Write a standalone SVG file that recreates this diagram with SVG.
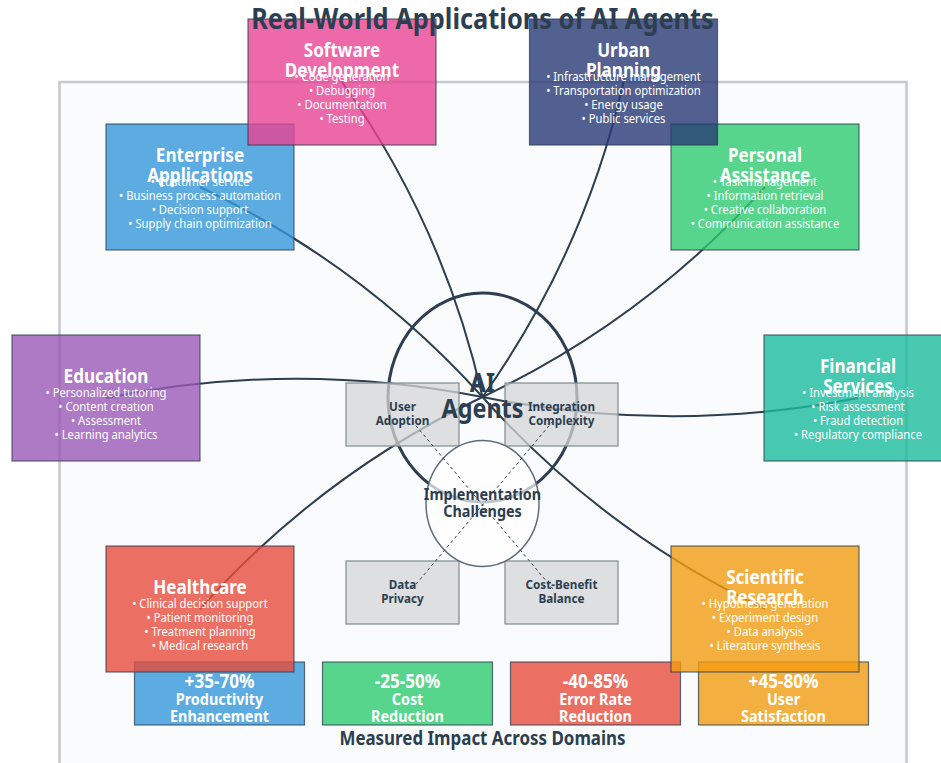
<svg xmlns="http://www.w3.org/2000/svg" width="941" height="763" viewBox="0 0 941 763">
<style>
text{font-family:"Noto Sans","Liberation Sans",sans-serif;text-anchor:middle}
.ttl{font-size:28.2px;font-weight:bold;fill:#2c3e50}
.nt{font-size:19px;font-weight:bold;fill:#ffffff}
.nb{font-size:12.5px;fill:#ffffff}
.node{fill-opacity:0.8;stroke:#2c3e50;stroke-opacity:0.75;stroke-width:1.2}
.conn{fill:none;stroke:#2c3e50;stroke-width:2}
.gbox{fill:#d3d5d7;fill-opacity:0.75;stroke:#7f8c8d;stroke-width:1.2}
.gt{font-size:13px;font-weight:bold;fill:#2c3e50}
.ct{font-size:16px;font-weight:bold;fill:#2c3e50}
.ai{font-size:26px;font-weight:bold;fill:#2c3e50}
.mv{font-size:19px;font-weight:bold;fill:#ffffff}
.ml{font-size:16px;font-weight:bold;fill:#ffffff}
.sub{font-size:18.8px;font-weight:bold;fill:#2c3e50}
.dash{stroke:#2c3e50;stroke-width:1;stroke-dasharray:3 3;fill:none}
</style>
<rect x="0" y="0" width="941" height="763" fill="#ffffff"/>
<rect id="panel" x="59.5" y="82" width="847" height="720" fill="#fafbfc" stroke="#c3c9cf" stroke-width="2.5"/>

<g id="metrics">
  <g id="metric-productivity">
    <rect class="node" x="134.5" y="662" width="170" height="63" fill="#3498db"/>
    <g transform="matrix(0.9 0 0 1 21.95 0)">
      <text class="mv" x="219.5" y="688">+35-70%</text>
      <text class="ml" x="219.5" y="705">Productivity</text>
      <text class="ml" x="219.5" y="722">Enhancement</text>
    </g>
  </g>
  <g id="metric-cost">
    <rect class="node" x="322.5" y="662" width="170" height="63" fill="#2ecc71"/>
    <g transform="matrix(0.9 0 0 1 40.75 0)">
      <text class="mv" x="407.5" y="688">-25-50%</text>
      <text class="ml" x="407.5" y="705">Cost</text>
      <text class="ml" x="407.5" y="722">Reduction</text>
    </g>
  </g>
  <g id="metric-error">
    <rect class="node" x="510.5" y="662" width="170" height="63" fill="#e74c3c"/>
    <g transform="matrix(0.9 0 0 1 59.55 0)">
      <text class="mv" x="595.5" y="688">-40-85%</text>
      <text class="ml" x="595.5" y="705">Error Rate</text>
      <text class="ml" x="595.5" y="722">Reduction</text>
    </g>
  </g>
  <g id="metric-satisfaction">
    <rect class="node" x="698.5" y="662" width="170" height="63" fill="#f39c12"/>
    <g transform="matrix(0.9 0 0 1 78.35 0)">
      <text class="mv" x="783.5" y="688">+45-80%</text>
      <text class="ml" x="783.5" y="705">User</text>
      <text class="ml" x="783.5" y="722">Satisfaction</text>
    </g>
  </g>
  <g transform="matrix(0.9 0 0 1 48.25 0)">
    <text class="sub" x="482.5" y="745">Measured Impact Across Domains</text>
  </g>
</g>

<g id="connectors">
  <path class="conn" d="M200,187 Q362.25,263.75 482.5,397"/>
  <path class="conn" d="M342,82 Q443.75,225.45 482.5,397"/>
  <path class="conn" d="M623.5,82 Q584.5,253.6 482.5,397"/>
  <path class="conn" d="M765,187 Q644.75,320.25 482.5,397"/>
  <path class="conn" d="M106,398 Q294.15,359.85 482.5,397"/>
  <path class="conn" d="M858,398 Q670.15,435.05 482.5,397"/>
  <path class="conn" d="M200,609 Q320.05,474.75 482.5,397"/>
  <path class="conn" d="M765,609 Q602.55,531.25 482.5,397"/>
</g>

<g id="ai-agents">
  <ellipse cx="482.5" cy="397.5" rx="94.5" ry="104.5" fill="none" stroke="#2c3e50" stroke-width="3"/>
</g>

<g id="challenge-user-adoption">
  <rect class="gbox" x="346" y="383" width="113" height="63"/>
</g>
<g id="challenge-integration">
  <rect class="gbox" x="505" y="383" width="113" height="63"/>
</g>
<g id="challenge-data-privacy">
  <rect class="gbox" x="346" y="561" width="113" height="63"/>
</g>
<g id="challenge-cost-benefit">
  <rect class="gbox" x="505" y="561" width="113" height="63"/>
</g>
<g id="implementation-challenges">
  <ellipse cx="482.5" cy="503.5" rx="56.5" ry="63" fill="#ffffff" fill-opacity="0.7" stroke="#5d6d7e" stroke-width="1.5"/>
</g>
<g id="challenge-links">
  <line class="dash" x1="412" y1="421" x2="553" y2="589"/>
  <line class="dash" x1="553" y1="421" x2="412" y2="589"/>
</g>
<g id="center-labels">
  <g transform="matrix(0.9 0 0 1 48.25 0)">
    <text class="ai" x="482.5" y="392">AI</text>
    <text class="ai" x="482.5" y="418">Agents</text>
    <text class="ct" x="482.5" y="500">Implementation</text>
    <text class="ct" x="482.5" y="517">Challenges</text>
  </g>
  <g transform="matrix(0.9 0 0 1 40.25 0)">
    <text class="gt" x="402.5" y="411">User</text>
    <text class="gt" x="402.5" y="425">Adoption</text>
    <text class="gt" x="402.5" y="589">Data</text>
    <text class="gt" x="402.5" y="603">Privacy</text>
  </g>
  <g transform="matrix(0.9 0 0 1 56.15 0)">
    <text class="gt" x="561.5" y="411">Integration</text>
    <text class="gt" x="561.5" y="425">Complexity</text>
    <text class="gt" x="561.5" y="589">Cost-Benefit</text>
    <text class="gt" x="561.5" y="603">Balance</text>
  </g>
</g>

<g id="node-enterprise">
  <rect class="node" x="106" y="124" width="188" height="126" fill="#3498db"/>
  <g transform="matrix(0.9 0 0 1 20 0)">
    <text class="nt" x="200" y="162">Enterprise</text>
    <text class="nt" x="200" y="182">Applications</text>
    <text class="nb" x="200" y="186">• Customer service</text>
    <text class="nb" x="200" y="200">• Business process automation</text>
    <text class="nb" x="200" y="214">• Decision support</text>
    <text class="nb" x="200" y="228">• Supply chain optimization</text>
  </g>
</g>
<g id="node-personal">
  <rect class="node" x="671" y="124" width="188" height="126" fill="#2ecc71"/>
  <g transform="matrix(0.9 0 0 1 76.5 0)">
    <text class="nt" x="765" y="162">Personal</text>
    <text class="nt" x="765" y="182">Assistance</text>
    <text class="nb" x="765" y="186">• Task management</text>
    <text class="nb" x="765" y="200">• Information retrieval</text>
    <text class="nb" x="765" y="214">• Creative collaboration</text>
    <text class="nb" x="765" y="228">• Communication assistance</text>
  </g>
</g>
<g id="node-education">
  <rect class="node" x="12" y="335" width="188" height="126" fill="#9b59b6"/>
  <g transform="matrix(0.9 0 0 1 10.6 0)">
    <text class="nt" x="106" y="383">Education</text>
    <text class="nb" x="106" y="397">• Personalized tutoring</text>
    <text class="nb" x="106" y="411">• Content creation</text>
    <text class="nb" x="106" y="425">• Assessment</text>
    <text class="nb" x="106" y="439">• Learning analytics</text>
  </g>
</g>
<g id="node-financial">
  <rect class="node" x="764" y="335" width="188" height="126" fill="#1abc9c"/>
  <g transform="matrix(0.9 0 0 1 85.8 0)">
    <text class="nt" x="858" y="373">Financial</text>
    <text class="nt" x="858" y="393">Services</text>
    <text class="nb" x="858" y="397">• Investment analysis</text>
    <text class="nb" x="858" y="411">• Risk assessment</text>
    <text class="nb" x="858" y="425">• Fraud detection</text>
    <text class="nb" x="858" y="439">• Regulatory compliance</text>
  </g>
</g>
<g id="node-healthcare">
  <rect class="node" x="106" y="546" width="188" height="126" fill="#e74c3c"/>
  <g transform="matrix(0.9 0 0 1 20 0)">
    <text class="nt" x="200" y="594">Healthcare</text>
    <text class="nb" x="200" y="608">• Clinical decision support</text>
    <text class="nb" x="200" y="622">• Patient monitoring</text>
    <text class="nb" x="200" y="636">• Treatment planning</text>
    <text class="nb" x="200" y="650">• Medical research</text>
  </g>
</g>
<g id="node-scientific">
  <rect class="node" x="671" y="546" width="188" height="126" fill="#f39c12"/>
  <g transform="matrix(0.9 0 0 1 76.5 0)">
    <text class="nt" x="765" y="584">Scientific</text>
    <text class="nt" x="765" y="604">Research</text>
    <text class="nb" x="765" y="608">• Hypothesis generation</text>
    <text class="nb" x="765" y="622">• Experiment design</text>
    <text class="nb" x="765" y="636">• Data analysis</text>
    <text class="nb" x="765" y="650">• Literature synthesis</text>
  </g>
</g>
<g id="node-software">
  <rect class="node" x="248" y="19" width="188" height="126" fill="#e84393"/>
  <g transform="matrix(0.9 0 0 1 34.2 0)">
    <text class="nt" x="342" y="57">Software</text>
    <text class="nt" x="342" y="77">Development</text>
    <text class="nb" x="342" y="81">• Code generation</text>
    <text class="nb" x="342" y="95">• Debugging</text>
    <text class="nb" x="342" y="109">• Documentation</text>
    <text class="nb" x="342" y="123">• Testing</text>
  </g>
</g>
<g id="node-urban">
  <rect class="node" x="529.5" y="19" width="188" height="126" fill="#283a75"/>
  <g transform="matrix(0.9 0 0 1 62.35 0)">
    <text class="nt" x="623.5" y="57">Urban</text>
    <text class="nt" x="623.5" y="77">Planning</text>
    <text class="nb" x="623.5" y="81">• Infrastructure management</text>
    <text class="nb" x="623.5" y="95">• Transportation optimization</text>
    <text class="nb" x="623.5" y="109">• Energy usage</text>
    <text class="nb" x="623.5" y="123">• Public services</text>
  </g>
</g>

<g id="title" transform="matrix(0.9 0 0 1 48.25 0)">
  <text class="ttl" x="482.5" y="29">Real-World Applications of AI Agents</text>
</g>
</svg>
